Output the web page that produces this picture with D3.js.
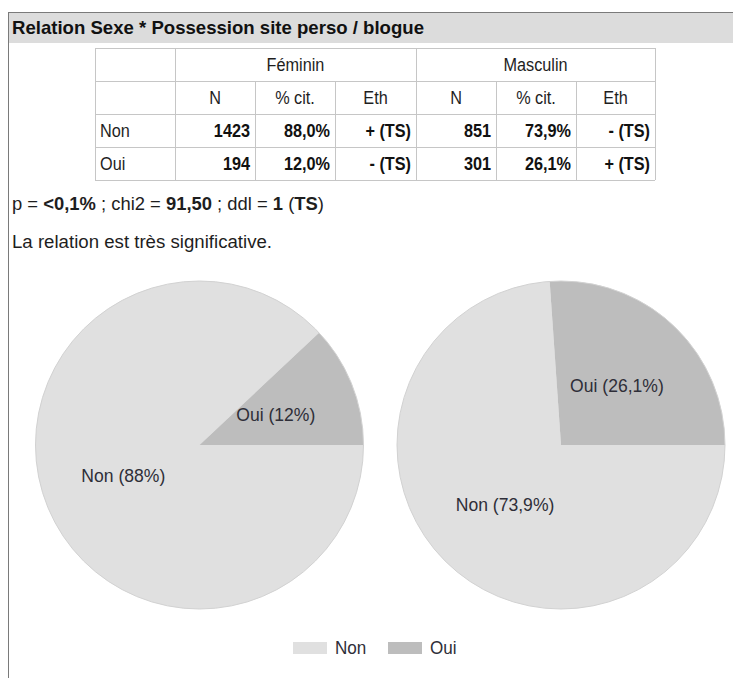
<!DOCTYPE html>
<html>
<head>
<meta charset="utf-8">
<script src="https://cdn.jsdelivr.net/npm/d3@7"></script>
<style>
  html, body { margin: 0; padding: 0; background: #fff; }
  svg { display: block; font-family: "Liberation Sans", Arial, sans-serif; }
</style>
</head>
<body>
<svg id="chart" width="733" height="678"></svg>
<script>
// Cross-tab: Sexe x Possession site perso / blogue
const title = "Relation Sexe * Possession site perso / blogue";
const groups = ["Féminin", "Masculin"];
const categories = ["Non", "Oui"];
const subHeaders = ["N", "% cit.", "Eth"];
const femininN = [1423, 194];
const masculinN = [851, 301];
const femininPct = [88.0, 12.0];
const masculinPct = [73.9, 26.1];
const femininEth = ["+ (TS)", "- (TS)"];
const masculinEth = ["- (TS)", "+ (TS)"];
const sliceColors = ["#e0e0e0", "#bdbdbd"];

const svg = d3.select("#chart");
const W = 733, H = 678;
const FS = 17.5;          // body text size
const SX = 0.93;          // slight horizontal condensing of glyphs

// text helper: places a label with condensed glyphs
function label(parent, x, y, str, opts = {}) {
  const t = parent.append("text")
    .attr("transform", `translate(${x},${y}) scale(${opts.sx ?? SX},1)`)
    .attr("font-size", opts.size ?? FS)
    .attr("font-weight", opts.bold ? "bold" : "normal")
    .attr("text-anchor", opts.anchor ?? "start")
    .attr("fill", opts.fill ?? "#1e1e1e")
    .text(str);
  if (opts.dy) t.attr("dy", opts.dy);
  return t;
}

// Frame: header bar and left rule
svg.append("rect").attr("x", 8).attr("y", 12).attr("width", W - 8).attr("height", 31)
  .attr("fill", "#dcdcdc");
svg.append("line").attr("x1", 8).attr("x2", W).attr("y1", 12.5).attr("y2", 12.5)
  .attr("stroke", "#7a7a7a");
svg.append("line").attr("x1", 8.5).attr("x2", 8.5).attr("y1", 12).attr("y2", H)
  .attr("stroke", "#7a7a7a");
svg.append("text").attr("x", 12).attr("y", 34)
  .attr("font-size", 18.5).attr("font-weight", "bold").attr("fill", "#111")
  .attr("textLength", 412).attr("lengthAdjust", "spacingAndGlyphs")
  .text(title);

// ---- Table ----
const colEdges = [95, 175, 255, 335, 416, 496, 576, 655];
const rowEdges = [48, 81, 114, 147, 180];
const tg = svg.append("g");
const lineCol = "#c6c6c6";
rowEdges.forEach(y => {
  tg.append("line").attr("x1", colEdges[0]).attr("x2", colEdges[7])
    .attr("y1", y + 0.5).attr("y2", y + 0.5).attr("stroke", lineCol);
});
// sub-column lines start at the second header row
colEdges.forEach((x, i) => {
  const full = (i === 0 || i === 1 || i === 4 || i === 7);
  tg.append("line").attr("x1", x + 0.5).attr("x2", x + 0.5)
    .attr("y1", full ? rowEdges[0] : rowEdges[1]).attr("y2", rowEdges[4])
    .attr("stroke", lineCol);
});
const mid = (a, b) => (a + b) / 2;
const rowMid = i => mid(rowEdges[i], rowEdges[i + 1]) + 6.5;
groups.forEach((g, gi) => {
  label(tg, mid(colEdges[1 + gi * 3], colEdges[4 + gi * 3]), rowMid(0), g, { anchor: "middle" });
  subHeaders.forEach((s, si) => {
    label(tg, mid(colEdges[1 + gi * 3 + si], colEdges[2 + gi * 3 + si]), rowMid(1), s, { anchor: "middle" });
  });
});
const fmtPct = v => d3.format(".1f")(v).replace(".", ",") + "%";
const groupData = [
  { n: femininN, pct: femininPct, eth: femininEth },
  { n: masculinN, pct: masculinPct, eth: masculinEth }
];
categories.forEach((c, ci) => {
  const y = rowMid(2 + ci);
  label(tg, colEdges[0] + 5, y, c);
  groupData.forEach((gd, gi) => {
    const vals = [String(gd.n[ci]), fmtPct(gd.pct[ci]), gd.eth[ci]];
    vals.forEach((v, vi) => {
      label(tg, colEdges[2 + gi * 3 + vi] - 5, y, v, { anchor: "end", bold: true, fill: "#111" });
    });
  });
});

// ---- Test statistics ----
const stat = svg.append("text").attr("x", 12).attr("y", 210).attr("font-size", FS).attr("fill", "#1e1e1e")
  .attr("textLength", 312).attr("lengthAdjust", "spacingAndGlyphs");
[["p = ", false], ["<0,1%", true], [" ; chi2 = ", false], ["91,50", true], [" ; ddl = ", false],
 ["1", true], [" (", false], ["TS", true], [")", false]]
  .forEach(([t, b]) => stat.append("tspan").attr("font-weight", b ? "bold" : "normal").text(t));
svg.append("text").attr("x", 12).attr("y", 248).attr("font-size", FS).attr("fill", "#1e1e1e")
  .attr("textLength", 260).attr("lengthAdjust", "spacingAndGlyphs")
  .text("La relation est très significative.");

// ---- Pies ----
const r = 164;
const centers = [[199.5, 445], [561, 445]];
const pctSets = [femininPct, masculinPct];
const color = d3.scaleOrdinal().domain(categories).range(sliceColors);
const pie = d3.pie().sort(null).startAngle(Math.PI / 2).endAngle(Math.PI / 2 + 2 * Math.PI);
const arc = d3.arc().innerRadius(0).outerRadius(r);
const labelArc = d3.arc().innerRadius(r * 0.5).outerRadius(r * 0.5);
const shortPct = v => d3.format(".1~f")(v).replace(".", ",") + "%";

pctSets.forEach((vals, pi) => {
  const g = svg.append("g").attr("transform", `translate(${centers[pi][0]},${centers[pi][1]})`);
  const arcs = pie(vals);
  g.selectAll("path.slice").data(arcs).join("path").attr("class", "slice")
    .attr("d", arc).attr("fill", (d, i) => color(categories[i]));
  g.append("circle").attr("r", r).attr("fill", "none").attr("stroke", "#d2d2d2").attr("stroke-width", 1);
  arcs.forEach((d, i) => {
    const [cx, cy] = labelArc.centroid(d);
    label(g, cx, cy, `${categories[i]} (${shortPct(vals[i])})`,
      { anchor: "middle", dy: "0.35em", fill: "#2e2e38", size: 18.5, sx: 0.95 });
  });
});

// ---- Legend ----
const legendItems = [{ x: 293, tx: 335 }, { x: 388, tx: 430 }];
categories.forEach((c, i) => {
  svg.append("rect").attr("x", legendItems[i].x).attr("y", 642).attr("width", 34).attr("height", 12)
    .attr("fill", color(c));
  label(svg, legendItems[i].tx, 654, c, { fill: "#2e2e38", size: 18, sx: 0.95 });
});
</script>
</body>
</html>
